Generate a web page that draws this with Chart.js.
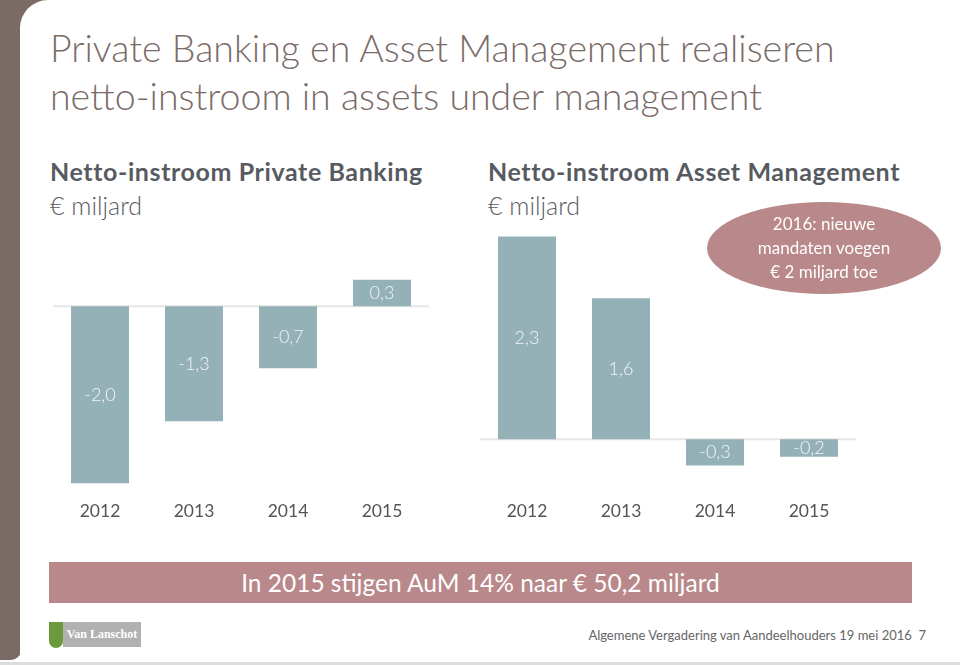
<!DOCTYPE html>
<html lang="nl">
<head>
<meta charset="UTF-8">
<title>Netto-instroom</title>
<script src="https://cdn.jsdelivr.net/npm/chart.js"></script>
<style>
  html, body { margin: 0; padding: 0; }
  body { width: 960px; height: 665px; position: relative; overflow: hidden; background: #fff; font-family: Lato, "Open Sans", sans-serif; }
  .strip { position: absolute; left: 0; top: 0; width: 22px; height: 660px; background: #7b6b67; border-bottom-right-radius: 12px; }
  .corner { position: absolute; left: 18px; top: 0; width: 40px; height: 40px; background: #7b6b67; }
  .panel { position: absolute; left: 20px; top: 0; width: 940px; height: 662px; background: #fff; border-top-left-radius: 28px; }
  .bottomline { position: absolute; left: 0; top: 662px; width: 960px; height: 3px; background: #dcdcdc; }
  .title { position: absolute; left: 50px; top: 24px; font-size: 37.5px; font-weight: 300; color: #7b6b67; line-height: 48px; }
  .sub { position: absolute; top: 154px; font-size: 25px; color: #575b61; line-height: 34px; }
  .sub b { font-weight: 700; letter-spacing: 0.6px; }
  .sub span { font-weight: 300; }
  .chart { position: absolute; }
  .ellipse { position: absolute; left: 707px; top: 202px; width: 234px; height: 92px; border-radius: 50%; background: #b9888b; color: #fff; text-align: center; font-size: 17px; line-height: 24px; box-sizing: border-box; padding-top: 10px; }
  .banner { position: absolute; left: 49px; top: 562px; width: 863px; height: 41px; background: #b9888b; color: #fff; font-size: 24.5px; line-height: 41px; text-align: center; }
  .logo-shield { position: absolute; left: 49px; top: 622px; width: 14px; height: 26px; background: #6b9a3c; border-radius: 0 0 7px 7px; }
  .logo-box { position: absolute; left: 63px; top: 622px; width: 78px; height: 25px; background: #b1b1b1; color: #fff; font-family: "Liberation Serif", serif; font-weight: 700; font-size: 12px; line-height: 25px; text-align: center; }
  .footer { position: absolute; right: 34px; top: 627px; font-size: 13px; color: #666; }
</style>
</head>
<body>
<div class="strip"></div>
<div class="corner"></div>
<div class="panel"></div>
<div class="bottomline"></div>

<div class="title">Private Banking en Asset Management realiseren<br>netto-instroom in assets under management</div>

<div class="sub" style="left:50px"><b>Netto-instroom Private Banking</b><br><span>€ miljard</span></div>
<div class="sub" style="left:488px"><b>Netto-instroom Asset Management</b><br><span>€ miljard</span></div>

<div class="chart" style="left:53px; top:262px; width:376px; height:270px;"><canvas id="pbChart"></canvas></div>
<div class="chart" style="left:480px; top:219px; width:376px; height:313px;"><canvas id="amChart"></canvas></div>

<div class="ellipse">2016: nieuwe<br>mandaten voegen<br>€ 2 miljard toe</div>

<div class="banner">In 2015 stijgen AuM 14% naar € 50,2 miljard</div>

<div class="logo-shield"></div>
<div class="logo-box">Van Lanschot</div>
<div class="footer">Algemene Vergadering van Aandeelhouders 19 mei 2016&nbsp;&nbsp;7</div>

<script>
const years = ['2012', '2013', '2014', '2015'];
const privateBanking = [-2.0, -1.3, -0.7, 0.3];
const assetManagement = [2.3, 1.6, -0.3, -0.2];

const barColor = '#93b1b6';

// labels in het midden van elke staaf, met komma als decimaalteken
const barLabels = {
  id: 'barLabels',
  afterDatasetsDraw(chart) {
    const ctx = chart.ctx;
    const meta = chart.getDatasetMeta(0);
    ctx.save();
    ctx.fillStyle = '#f4f6f6';
    ctx.font = '300 18px Lato, sans-serif';
    ctx.textAlign = 'center';
    ctx.textBaseline = 'middle';
    meta.data.forEach((bar, i) => {
      const v = chart.data.datasets[0].data[i];
      const y = (bar.y + bar.base) / 2;
      ctx.fillText(v.toFixed(1).replace('.', ','), bar.x, y);
    });
    ctx.restore();
  }
};

// nullijn over de hele breedte
const zeroLine = {
  id: 'zeroLine',
  beforeDatasetsDraw(chart) {
    const ctx = chart.ctx;
    const y = chart.scales.y.getPixelForValue(0);
    ctx.save();
    ctx.strokeStyle = '#e6e6e6';
    ctx.lineWidth = 2;
    ctx.beginPath();
    ctx.moveTo(chart.chartArea.left, y);
    ctx.lineTo(chart.chartArea.right, y);
    ctx.stroke();
    ctx.restore();
  }
};

function makeChart(id, values, min, max) {
  return new Chart(document.getElementById(id), {
    type: 'bar',
    data: {
      labels: years,
      datasets: [{ data: values, backgroundColor: barColor, borderWidth: 0, categoryPercentage: 1, barPercentage: 0.617 }]
    },
    options: {
      responsive: true,
      maintainAspectRatio: false,
      animation: false,
      layout: { padding: 0 },
      plugins: { legend: { display: false }, tooltip: { enabled: false } },
      scales: {
        x: {
          grid: { display: false, drawTicks: false },
          border: { display: false },
          ticks: { color: '#555', font: { family: 'Lato', size: 17.5 }, padding: 9 },
          afterFit: (scale) => { scale.height = 40; }
        },
        y: { display: false, min: min, max: max }
      }
    },
    plugins: [zeroLine, barLabels]
  });
}

makeChart('pbChart', privateBanking, -2.1, 0.5);
makeChart('amChart', assetManagement, -0.6, 2.5);
</script>
</body>
</html>
